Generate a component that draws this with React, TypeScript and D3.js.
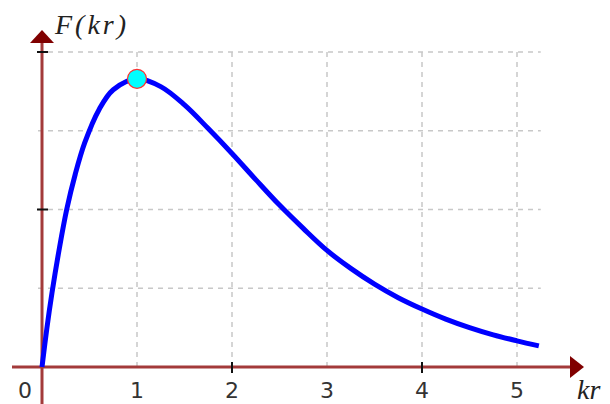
import React from 'react';
import * as d3 from 'd3';

// values
const krValues = [0, 0.05, 0.105, 0.18, 0.26, 0.35, 0.45, 0.6, 0.75, 1.0, 1.25, 1.5, 1.75, 2.0, 2.25, 2.5, 2.75, 3.0, 3.25, 3.5, 3.75, 4.0, 4.25, 4.5, 4.75, 5.0, 5.23];
const fValues = [0, 0.12, 0.235, 0.372, 0.5, 0.612, 0.712, 0.817, 0.88, 0.915, 0.89, 0.832, 0.757, 0.678, 0.595, 0.514, 0.44, 0.37, 0.313, 0.263, 0.22, 0.184, 0.152, 0.125, 0.102, 0.083, 0.067];
const xGrid = [1, 2, 3, 4, 5];
const yGrid = [0.25, 0.5, 0.75, 1];
const xLabels = ['0', '1', '2', '3', '4', '5'];
const xTicks = [2, 4];
const yTicks = [0.5, 1];
const peak = { kr: 1, f: 0.915 };

const W = 610;
const H = 404;

const App = () => {
  const x = d3.scaleLinear().domain([0, 5]).range([42, 517]);
  const y = d3.scaleLinear().domain([0, 1]).range([367, 52]);

  const pts = krValues.map((k, i) => [k, fValues[i]] as [number, number]);
  const line = d3.line<[number, number]>()
    .x(d => x(d[0]))
    .y(d => y(d[1]))
    .curve(d3.curveCatmullRom.alpha(0.5));

  const axisColor = '#a33a3a';
  const arrowColor = '#800000';
  const gridColor = '#c8c8c8';
  const x0 = x(0);
  const y0 = y(0);
  const gridRight = x(5.25);

  return (
    <svg width={W} height={H} style={{ position: 'absolute', left: 0, top: 0, background: '#fff' }}>
      {/* grid */}
      {yGrid.map(v => (
        <line key={'h' + v} x1={38} x2={gridRight} y1={y(v)} y2={y(v)}
          stroke={gridColor} strokeWidth={1.5} strokeDasharray="5,5" />
      ))}
      {xGrid.map(v => (
        <line key={'v' + v} x1={x(v)} x2={x(v)} y1={y(1)} y2={y0}
          stroke={gridColor} strokeWidth={1.5} strokeDasharray="5,5" />
      ))}

      {/* axes */}
      <line x1={12} x2={572} y1={y0} y2={y0} stroke={axisColor} strokeWidth={3} />
      <line x1={x0} x2={x0} y1={404} y2={42} stroke={axisColor} strokeWidth={3} />
      <path d={`M${x0},30 L${x0 - 12},43 L${x0 + 12},43 Z`} fill={arrowColor} />
      <path d={`M584,${y0} L570,${y0 - 11} L570,${y0 + 11} Z`} fill={arrowColor} />

      {/* ticks */}
      {yTicks.map(v => (
        <line key={'yt' + v} x1={x0 - 5} x2={x0 + 6} y1={y(v)} y2={y(v)} stroke="#111" strokeWidth={2} />
      ))}
      {xTicks.map(v => (
        <line key={'xt' + v} x1={x(v)} x2={x(v)} y1={y0 - 5} y2={y0 + 6} stroke="#111" strokeWidth={2} />
      ))}

      {/* curve */}
      <path d={line(pts) || ''} fill="none" stroke="#0000ff" strokeWidth={5} strokeLinejoin="round" />
      <circle cx={x(peak.kr)} cy={y(peak.f)} r={9.5} fill="#00ffff" stroke="#ff3030" strokeWidth={1.2} />

      {/* labels */}
      {xLabels.map((t, i) => (
        <text key={'xl' + t} x={i === 0 ? 25 : x(i)} y={398} textAnchor="middle"
          fontFamily="DejaVu Sans" fontSize={22} fill="#333">{t}</text>
      ))}
      <text x={577} y={399} fontFamily="Liberation Serif" fontStyle="italic" fontSize={28} fill="#222">kr</text>
      <text x={55} y={34} fontFamily="Liberation Serif" fontStyle="italic" fontSize={28}
        letterSpacing={3} fill="#222">F(kr)</text>
    </svg>
  );
};

export default App;
